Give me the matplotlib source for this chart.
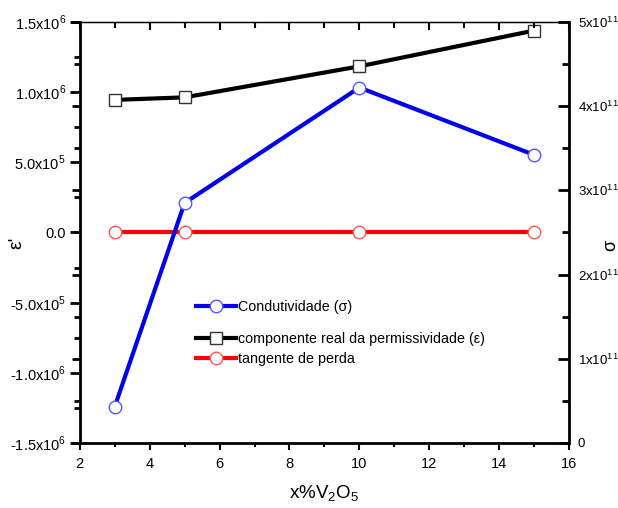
import matplotlib.pyplot as plt
from matplotlib.ticker import MultipleLocator

plt.rcParams['font.family'] = ['Liberation Sans', 'DejaVu Sans']
plt.rcParams['mathtext.fontset'] = 'custom'
plt.rcParams['mathtext.rm'] = 'Liberation Sans'

# data
x_pct = [3, 5, 10, 15]
eps_real = [0.944e6, 0.962e6, 1.183e6, 1.438e6]
tan_loss = [0.0, 0.0, 0.0, 0.0]
sigma = [0.43e11, 2.85e11, 4.22e11, 3.42e11]

left_ticks = [-1.5e6, -1.0e6, -0.5e6, 0.0, 0.5e6, 1.0e6, 1.5e6]
left_labels = ['-1.5x10$^{6}$', '-1.0x10$^{6}$', '-5.0x10$^{5}$', '0.0',
               '5.0x10$^{5}$', '1.0x10$^{6}$', '1.5x10$^{6}$']
right_ticks = [0, 1e11, 2e11, 3e11, 4e11, 5e11]
right_labels = ['0', '1x10$^{11}$', '2x10$^{11}$', '3x10$^{11}$',
                '4x10$^{11}$', '5x10$^{11}$']


def main():
    fig = plt.figure(figsize=(6.18, 5.08), dpi=100)
    pos = [0.129, 0.128, 0.792, 0.829]
    ax = fig.add_axes(pos)
    ax2 = ax.twinx()
    # extra axes: top ticks inward, right-axis ticks mirrored on the left
    ax3 = fig.add_axes(pos, frameon=False)
    ax3.patch.set_visible(False)

    ln_eps, = ax.plot(x_pct, eps_real, color='black', lw=3, marker='s', ms=8,
                      mfc='white', mec='#333333', mew=1, zorder=3,
                      label='componente real da permissividade (ε)')
    ln_tan, = ax.plot(x_pct, tan_loss, color='red', lw=3, marker='o', ms=9,
                      mfc='white', mec='#ff5555', mew=1, zorder=3,
                      label='tangente de perda')
    ln_sig, = ax2.plot(x_pct, sigma, color='#0000ee', lw=3, marker='o', ms=9,
                       mfc='white', mec='#5555ff', mew=1, zorder=3,
                       label='Condutividade (σ)')

    ax.set_xlim(2, 16)
    ax.set_ylim(-1.5e6, 1.5e6)
    ax2.set_ylim(0, 5e11)
    ax3.set_xlim(2, 16)
    ax3.set_ylim(0, 5e11)

    ax.xaxis.set_major_locator(MultipleLocator(2))
    ax.xaxis.set_minor_locator(MultipleLocator(1))
    ax.set_yticks(left_ticks)
    ax.set_yticklabels(left_labels)
    ax.yaxis.set_minor_locator(MultipleLocator(0.25e6))
    ax2.set_yticks(right_ticks)
    ax2.set_yticklabels(right_labels)
    ax2.yaxis.set_minor_locator(MultipleLocator(0.5e11))

    ax3.xaxis.set_major_locator(MultipleLocator(2))
    ax3.xaxis.set_minor_locator(MultipleLocator(1))
    ax3.yaxis.set_major_locator(MultipleLocator(1e11))
    ax3.yaxis.set_minor_locator(MultipleLocator(0.5e11))
    ax3.tick_params(axis='x', which='both', direction='in', top=True,
                    bottom=False, labelbottom=False, width=1.5)
    ax3.tick_params(axis='x', which='major', length=6)
    ax3.tick_params(axis='x', which='minor', length=4)
    ax3.tick_params(axis='y', which='both', direction='out', left=True,
                    right=False, labelleft=False, width=2)
    ax3.tick_params(axis='y', which='major', length=6)
    ax3.tick_params(axis='y', which='minor', length=4)

    ax.tick_params(axis='x', which='both', direction='out', top=False,
                   labelsize=10.5, width=1.5, pad=5)
    ax.tick_params(axis='x', which='major', length=5)
    ax.tick_params(axis='x', which='minor', length=3)
    ax.tick_params(axis='y', which='both', direction='out', labelsize=10.5,
                   width=2, right=False, pad=3)
    ax.tick_params(axis='y', which='major', length=7)
    ax.tick_params(axis='y', which='minor', length=4)
    ax2.tick_params(axis='y', which='both', direction='in', labelsize=9.5,
                    width=2, pad=6)
    ax2.tick_params(axis='y', which='major', length=8)
    ax2.tick_params(axis='y', which='minor', length=5)

    for side in ['left', 'right', 'bottom']:
        ax2.spines[side].set_linewidth(2)
    ax2.spines['top'].set_linewidth(1)

    ax.set_xlabel('x%V$_2$O$_5$', fontsize=13.5, labelpad=9)
    ax.set_ylabel("ε'", fontsize=14)
    ax.yaxis.set_label_coords(-0.112, 0.475)
    ax2.set_ylabel('σ', fontsize=13)
    ax2.yaxis.set_label_coords(1.068, 0.47)

    leg1 = ax.legend(handles=[ln_sig], loc='upper left',
                     bbox_to_anchor=(0.238, 0.339), frameon=False,
                     fontsize=10.3, handlelength=2.8, handletextpad=0.1,
                     borderpad=0, borderaxespad=0)
    ax.add_artist(leg1)
    ax.legend(handles=[ln_eps, ln_tan], loc='upper left',
              bbox_to_anchor=(0.238, 0.264), frameon=False, fontsize=10.3,
              handlelength=2.8, handletextpad=0.1, labelspacing=0.45,
              borderpad=0, borderaxespad=0)

    fig.savefig('out.png', dpi=100)


if __name__ == '__main__':
    main()
